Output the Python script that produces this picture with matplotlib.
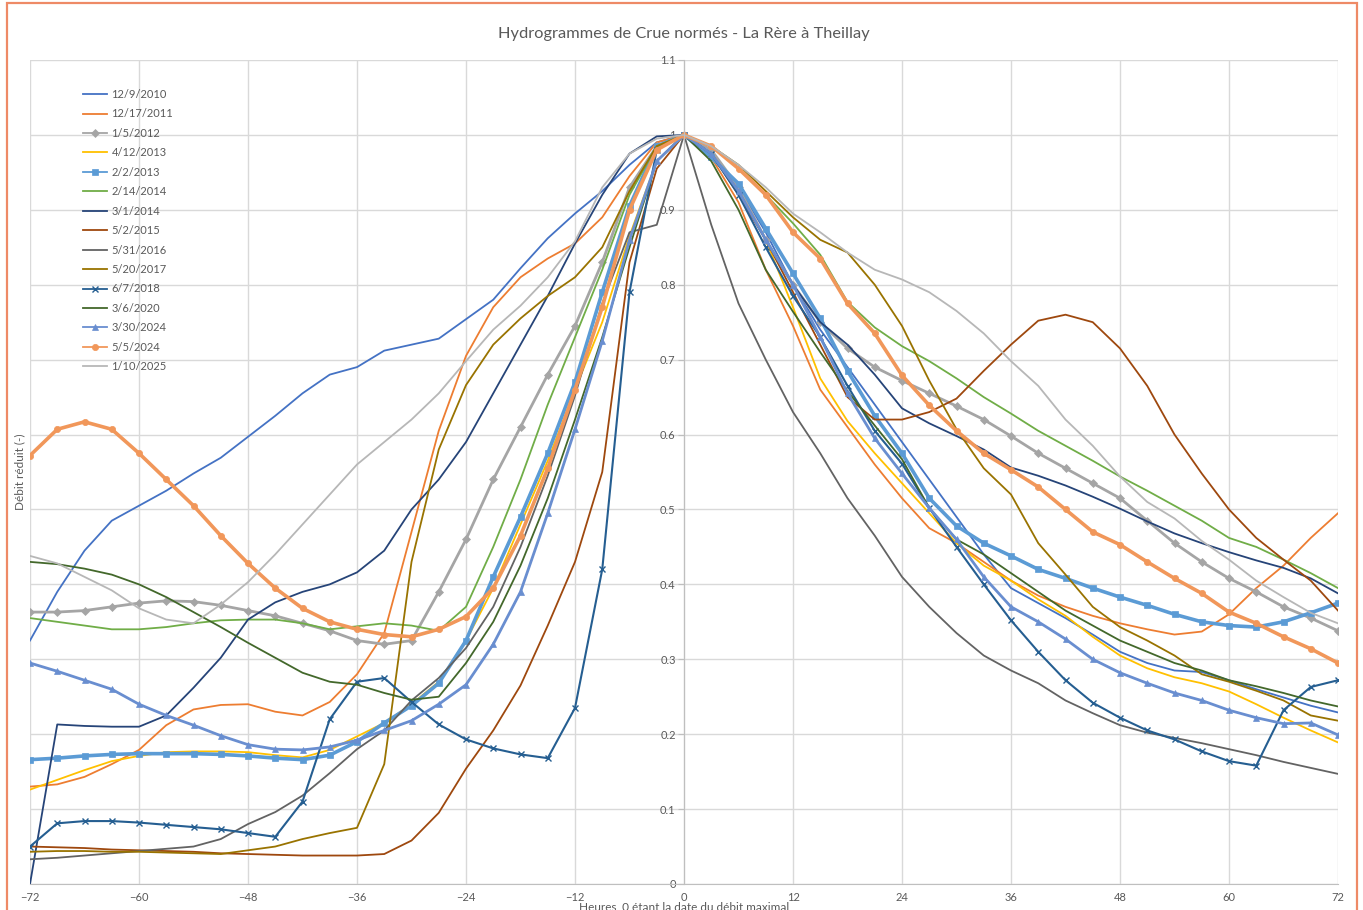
import numpy as np
import matplotlib
matplotlib.use("Agg")
import matplotlib.pyplot as plt
from matplotlib.patches import Rectangle
from matplotlib.ticker import FuncFormatter

plt.rcParams['font.family'] = ['Lato', 'DejaVu Sans']

# hours relative to peak, one value every 3 h
hours = np.arange(-72, 73, 3)

s_2010_12_09 = [0.325, 0.39, 0.445, 0.485, 0.505, 0.525, 0.548, 0.569, 0.597, 0.625, 0.655, 0.68,
                0.69, 0.712, 0.72, 0.728, 0.754, 0.78, 0.822, 0.862, 0.895, 0.925, 0.96, 0.99, 1.0,
                0.975, 0.93, 0.87, 0.8, 0.74, 0.69, 0.64, 0.59, 0.54, 0.49, 0.44, 0.395,
                0.375, 0.355, 0.333, 0.31, 0.295, 0.285, 0.283, 0.272, 0.26, 0.249, 0.238, 0.229]
s_2011_12_17 = [0.13, 0.133, 0.143, 0.16, 0.179, 0.212, 0.233, 0.239, 0.24, 0.23, 0.225, 0.243,
                0.28, 0.335, 0.47, 0.605, 0.705, 0.77, 0.81, 0.835, 0.855, 0.89, 0.945, 0.99, 1.0,
                0.97, 0.91, 0.82, 0.745, 0.66, 0.61, 0.56, 0.515, 0.475, 0.455, 0.43, 0.405,
                0.385, 0.37, 0.358, 0.348, 0.34, 0.333, 0.337, 0.36, 0.395, 0.425, 0.462, 0.495]
s_2012_01_05 = [0.363, 0.363, 0.365, 0.37, 0.375, 0.378, 0.377, 0.372, 0.365, 0.358, 0.348, 0.338,
                0.325, 0.32, 0.325, 0.39, 0.46, 0.54, 0.61, 0.68, 0.745, 0.83, 0.93, 0.985, 1.0,
                0.98, 0.93, 0.86, 0.8, 0.75, 0.715, 0.69, 0.672, 0.655, 0.638, 0.62, 0.598,
                0.575, 0.555, 0.535, 0.515, 0.485, 0.455, 0.43, 0.408, 0.39, 0.37, 0.355, 0.338]
s_2013_04_12 = [0.126, 0.139, 0.152, 0.164, 0.171, 0.176, 0.177, 0.177, 0.176, 0.172, 0.169, 0.179,
                0.197, 0.215, 0.24, 0.27, 0.325, 0.395, 0.48, 0.565, 0.66, 0.75, 0.865, 0.965, 1.0,
                0.975, 0.925, 0.86, 0.77, 0.675, 0.618, 0.575, 0.535, 0.495, 0.455, 0.425, 0.405,
                0.38, 0.358, 0.33, 0.305, 0.288, 0.276, 0.268, 0.257, 0.24, 0.222, 0.205, 0.189]
s_2013_02_02 = [0.166, 0.168, 0.171, 0.173, 0.174, 0.174, 0.174, 0.173, 0.171, 0.168, 0.166, 0.172,
                0.19, 0.215, 0.238, 0.268, 0.325, 0.41, 0.49, 0.575, 0.67, 0.79, 0.905, 0.985, 1.0,
                0.97, 0.935, 0.875, 0.815, 0.755, 0.685, 0.625, 0.575, 0.515, 0.478, 0.455, 0.438,
                0.42, 0.408, 0.395, 0.383, 0.372, 0.36, 0.35, 0.345, 0.343, 0.35, 0.362, 0.375]
s_2014_02_14 = [0.355, 0.35, 0.345, 0.34, 0.34, 0.343, 0.348, 0.352, 0.353, 0.353, 0.348, 0.34,
                0.344, 0.348, 0.345, 0.338, 0.37, 0.45, 0.54, 0.64, 0.73, 0.82, 0.92, 0.985, 1.0,
                0.985, 0.955, 0.92, 0.882, 0.84, 0.777, 0.743, 0.718, 0.698, 0.675, 0.65, 0.628,
                0.605, 0.585, 0.565, 0.544, 0.525, 0.505, 0.485, 0.462, 0.45, 0.433, 0.415, 0.395]
s_2014_03_01 = [0.0, 0.213, 0.211, 0.21, 0.21, 0.225, 0.262, 0.302, 0.353, 0.376, 0.39, 0.4,
                0.416, 0.445, 0.5, 0.54, 0.59, 0.655, 0.72, 0.785, 0.855, 0.92, 0.975, 0.998, 1.0,
                0.975, 0.925, 0.86, 0.8, 0.75, 0.72, 0.68, 0.635, 0.615, 0.598, 0.58, 0.556,
                0.545, 0.532, 0.517, 0.501, 0.484, 0.468, 0.455, 0.443, 0.432, 0.422, 0.408, 0.388]
s_2015_05_02 = [0.05, 0.049, 0.048, 0.046, 0.045, 0.044, 0.043, 0.041, 0.04, 0.039, 0.038, 0.038,
                0.038, 0.04, 0.058, 0.095, 0.154, 0.205, 0.265, 0.345, 0.43, 0.55, 0.83, 0.955, 1.0,
                0.975, 0.92, 0.86, 0.79, 0.72, 0.65, 0.62, 0.62, 0.63, 0.648, 0.685, 0.72,
                0.752, 0.76, 0.75, 0.715, 0.665, 0.6, 0.548, 0.5, 0.462, 0.433, 0.405, 0.365]
s_2016_05_31 = [0.033, 0.035, 0.038, 0.041, 0.044, 0.047, 0.05, 0.06, 0.08, 0.096, 0.118, 0.148,
                0.18, 0.205, 0.245, 0.275, 0.315, 0.37, 0.45, 0.545, 0.652, 0.775, 0.87, 0.88, 1.0,
                0.88, 0.775, 0.7, 0.63, 0.575, 0.515, 0.465, 0.41, 0.37, 0.335, 0.305, 0.285,
                0.268, 0.245, 0.228, 0.212, 0.202, 0.195, 0.188, 0.18, 0.172, 0.163, 0.155, 0.147]
s_2017_05_20 = [0.043, 0.044, 0.044, 0.043, 0.043, 0.042, 0.041, 0.04, 0.045, 0.05, 0.06, 0.068,
                0.075, 0.16, 0.43, 0.58, 0.666, 0.72, 0.755, 0.785, 0.81, 0.85, 0.925, 0.985, 1.0,
                0.985, 0.96, 0.925, 0.89, 0.86, 0.843, 0.8, 0.745, 0.672, 0.607, 0.555, 0.52,
                0.455, 0.413, 0.37, 0.343, 0.325, 0.305, 0.28, 0.27, 0.258, 0.245, 0.225, 0.218]
s_2018_06_07 = [0.05, 0.081, 0.084, 0.084, 0.082, 0.079, 0.076, 0.073, 0.068, 0.063, 0.11, 0.22,
                0.27, 0.275, 0.243, 0.213, 0.193, 0.181, 0.173, 0.168, 0.235, 0.42, 0.79, 0.98, 1.0,
                0.975, 0.92, 0.85, 0.785, 0.73, 0.665, 0.605, 0.561, 0.502, 0.45, 0.4, 0.352,
                0.31, 0.272, 0.242, 0.222, 0.205, 0.193, 0.177, 0.164, 0.158, 0.232, 0.263, 0.272]
s_2020_03_06 = [0.43, 0.427, 0.421, 0.413, 0.4, 0.383, 0.363, 0.343, 0.322, 0.302, 0.282, 0.27,
                0.266, 0.255, 0.246, 0.25, 0.295, 0.35, 0.425, 0.515, 0.62, 0.73, 0.85, 0.965, 1.0,
                0.965, 0.9, 0.82, 0.764, 0.71, 0.658, 0.612, 0.567, 0.502, 0.46, 0.44, 0.415,
                0.39, 0.365, 0.345, 0.325, 0.31, 0.295, 0.285, 0.272, 0.264, 0.255, 0.245, 0.237]
s_2024_03_30 = [0.295, 0.284, 0.272, 0.26, 0.24, 0.225, 0.212, 0.198, 0.186, 0.18, 0.179, 0.183,
                0.192, 0.205, 0.218, 0.24, 0.266, 0.32, 0.39, 0.495, 0.607, 0.725, 0.86, 0.965, 1.0,
                0.975, 0.925, 0.86, 0.8, 0.73, 0.655, 0.595, 0.548, 0.502, 0.46, 0.41, 0.37,
                0.35, 0.327, 0.3, 0.282, 0.268, 0.255, 0.245, 0.232, 0.222, 0.214, 0.215, 0.199]
s_2024_05_05 = [0.572, 0.607, 0.617, 0.607, 0.575, 0.54, 0.505, 0.465, 0.428, 0.395, 0.368, 0.35,
                0.34, 0.333, 0.33, 0.34, 0.357, 0.395, 0.465, 0.555, 0.66, 0.77, 0.9, 0.98, 1.0,
                0.985, 0.955, 0.92, 0.87, 0.835, 0.775, 0.735, 0.679, 0.639, 0.605, 0.575, 0.553,
                0.53, 0.5, 0.47, 0.453, 0.43, 0.408, 0.388, 0.363, 0.348, 0.33, 0.314, 0.295]
s_2025_01_10 = [0.438, 0.428, 0.41, 0.392, 0.368, 0.353, 0.348, 0.373, 0.403, 0.44, 0.48, 0.52,
                0.56, 0.59, 0.62, 0.655, 0.698, 0.74, 0.772, 0.81, 0.858, 0.93, 0.975, 0.995, 1.0,
                0.985, 0.96, 0.93, 0.895, 0.87, 0.843, 0.82, 0.807, 0.79, 0.765, 0.735, 0.698,
                0.665, 0.62, 0.585, 0.544, 0.51, 0.488, 0.458, 0.433, 0.405, 0.383, 0.362, 0.348]

labels = ["12/9/2010", "12/17/2011", "1/5/2012", "4/12/2013", "2/2/2013", "2/14/2014",
          "3/1/2014", "5/2/2015", "5/31/2016", "5/20/2017", "6/7/2018", "3/6/2020",
          "3/30/2024", "5/5/2024", "1/10/2025"]
series = [s_2010_12_09, s_2011_12_17, s_2012_01_05, s_2013_04_12, s_2013_02_02, s_2014_02_14,
          s_2014_03_01, s_2015_05_02, s_2016_05_31, s_2017_05_20, s_2018_06_07, s_2020_03_06,
          s_2024_03_30, s_2024_05_05, s_2025_01_10]
colors = ["#4472C4", "#ED7D31", "#A5A5A5", "#FFC000", "#5B9BD5", "#70AD47",
          "#264478", "#9E480E", "#636363", "#997300", "#255E91", "#43682B",
          "#698ED0", "#F1975A", "#B7B7B7"]
markers = [None, None, "D", None, "s", None, None, None, None, None, "x", None, "^", "o", None]
# marker series look like thick bands in the original (marker on every hour)
widths = {"D": 2.0, "s": 2.6, "x": 1.5, "^": 2.0, "o": 2.6}

fig = plt.figure(figsize=(13.63, 9.10), dpi=100)
W, H = 1363, 910
ax = fig.add_axes([30 / W, 1 - 884 / H, 1308 / W, 824 / H])

lines = []
for vals, lab, col, mk in zip(series, labels, colors, markers):
    ms = 4 if mk in ("D", "x") else 4.5
    ln, = ax.plot(hours, vals, color=col, lw=widths.get(mk, 1.3), label=lab, marker=mk,
                  markersize=ms, markeredgewidth=1.0 if mk == "x" else 0.5)
    lines.append(ln)

ax.set_xlim(-72, 72)
ax.set_ylim(0, 1.1)
ax.set_xticks(np.arange(-72, 73, 12))
ax.set_yticks(np.round(np.arange(0, 1.11, 0.1), 1))
ax.yaxis.set_major_formatter(FuncFormatter(lambda v, p: "{:g}".format(round(v, 1))))
ax.grid(True, color="#D9D9D9", lw=1.0)
ax.set_axisbelow(True)
for s in ["top", "right"]:
    ax.spines[s].set_visible(False)
ax.spines["left"].set_position(("data", 0))
ax.spines["left"].set_color("#BFBFBF")
ax.spines["bottom"].set_color("#BFBFBF")
ax.tick_params(axis="x", length=0, labelsize=8, labelcolor="#595959", pad=6)
ax.tick_params(axis="y", length=4, color="#BFBFBF", labelsize=8, labelcolor="#595959", pad=2)

leg = ax.legend(loc="upper left", bbox_to_anchor=(83 / W, 1 - 89 / H), bbox_transform=fig.transFigure,
                frameon=False, fontsize=8, labelcolor="#595959", handlelength=2.2, handletextpad=0.35,
                labelspacing=0.76, borderpad=0, borderaxespad=0)
for h in leg.legend_handles:
    h.set_linewidth(1.3)

fig.text(684 / W, 1 - 34 / H, "Hydrogrammes de Crue normés - La Rère à Theillay",
         ha="center", va="center", fontsize=11.8, color="#595959")
fig.text(684 / W, 1 - 907 / H, "Heures, 0 étant la date du débit maximal",
         ha="center", va="center", fontsize=8.5, color="#595959")
fig.text(20 / W, 1 - 472 / H, "Débit réduit (-)", rotation=90,
         ha="center", va="center", fontsize=8.5, color="#595959")

fig.patches.append(Rectangle((7 / W, -0.05), 1350 / W, 1.05 - 3 / H, transform=fig.transFigure,
                             fill=False, edgecolor="#EE8A66", lw=1.6))

fig.savefig("out.png", dpi=100)
